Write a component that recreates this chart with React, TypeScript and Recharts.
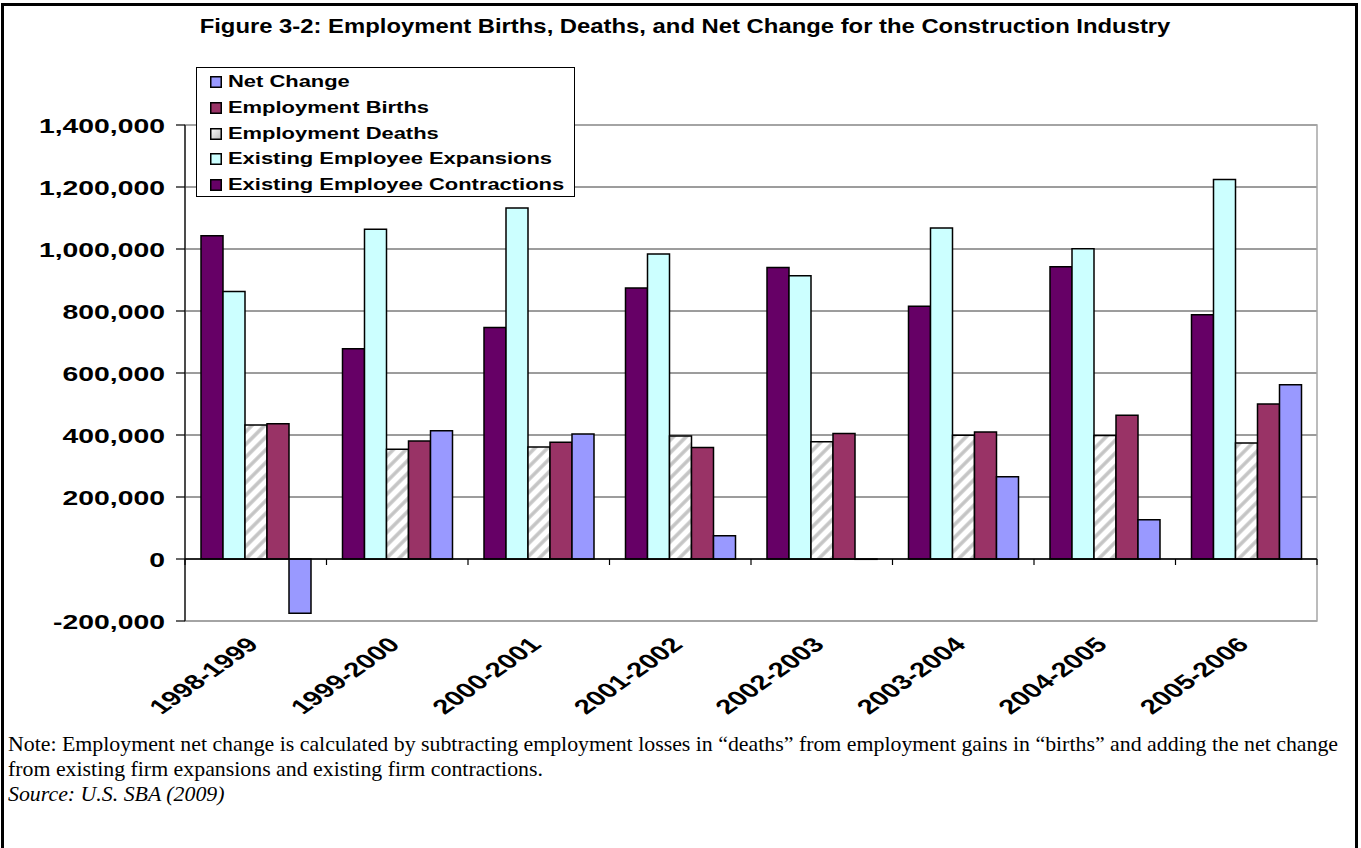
import React from 'react';
import { BarChart, Bar, XAxis, YAxis, CartesianGrid, ReferenceLine, ReferenceArea, Legend } from 'recharts';

const categories = ['1998-1999', '1999-2000', '2000-2001', '2001-2002', '2002-2003', '2003-2004', '2004-2005', '2005-2006'];
const contractions = [1043000, 678000, 747000, 874000, 940000, 815000, 943000, 788000];
const expansions = [863000, 1064000, 1132000, 984000, 914000, 1068000, 1001000, 1224000];
const deaths = [432000, 354000, 361000, 397000, 378000, 399000, 398000, 374000];
const births = [436000, 381000, 377000, 360000, 405000, 410000, 464000, 500000];
const netChange = [-175000, 414000, 403000, 75000, -1000, 265000, 127000, 562000];
const yTicks = [-200000, 0, 200000, 400000, 600000, 800000, 1000000, 1200000, 1400000];

const data = categories.map((period, i) => ({
  period,
  contractions: contractions[i],
  expansions: expansions[i],
  deaths: deaths[i],
  births: births[i],
  net: netChange[i],
}));

const series = [
  { key: 'contractions', name: 'Existing Employee Contractions', fill: '#660066' },
  { key: 'expansions', name: 'Existing Employee Expansions', fill: '#CCFFFF' },
  { key: 'deaths', name: 'Employment Deaths', fill: 'url(#hatch)' },
  { key: 'births', name: 'Employment Births', fill: '#993366' },
  { key: 'net', name: 'Net Change', fill: '#9999FF' },
];

const SANS = '"Liberation Sans", Arial, sans-serif';
const SERIF = '"Liberation Serif", "Times New Roman", serif';
const STRETCH = 1.35;

const fmt = (v: number) => v.toLocaleString('en-US');

const YTick = (props: any) => {
  const { x, y, payload } = props;
  return (
    <text
      transform={`translate(${x},${y}) scale(${STRETCH},1)`}
      textAnchor="end"
      dy="0.36em"
      fontFamily={SANS}
      fontWeight="bold"
      fontSize={21}
      fill="#000"
    >
      {fmt(payload.value)}
    </text>
  );
};

const XTick = (props: any) => {
  const { x, y, payload } = props;
  return (
    <text
      transform={`translate(${x + 4},${y + 25}) scale(1.42,1) rotate(-45)`}
      textAnchor="end"
      fontFamily={SANS}
      fontWeight="bold"
      fontSize={20.5}
      fill="#000"
    >
      {payload.value}
    </text>
  );
};

const ZeroAxis = (props: any) => {
  const { x1, y1, x2, y2 } = props;
  if (x1 == null) return <g />;
  const n = categories.length;
  const step = (x2 - x1) / n;
  return (
    <g>
      <line x1={x1} y1={y1} x2={x2} y2={y2} stroke="#000" strokeWidth={1.3} />
      {Array.from({ length: n + 1 }, (_, i) => (
        <line key={i} x1={x1 + i * step} x2={x1 + i * step} y1={y1} y2={y1 + 6} stroke="#000" strokeWidth={1.2} />
      ))}
    </g>
  );
};

const Swatch = ({ fill }: { fill: string }) => (
  <svg width={12} height={12} style={{ display: 'block' }}>
    <defs>
      <linearGradient id="swg" x1="0" y1="0" x2="1" y2="1">
        <stop offset="0" stopColor="#ffffff" />
        <stop offset="1" stopColor="#bdbdbd" />
      </linearGradient>
    </defs>
    <rect x={0.75} y={0.75} width={10.5} height={10.5} fill={fill.startsWith('url') ? 'url(#swg)' : fill} stroke="#000" strokeWidth={1.5} />
  </svg>
);

const LegendBox = () => (
  <div
    style={{
      width: 379,
      height: 130,
      border: '1px solid #000',
      background: '#fff',
      boxSizing: 'border-box',
      position: 'relative',
    }}
  >
    {[...series].reverse().map((s, i) => (
      <div
        key={s.key}
        style={{ position: 'absolute', left: 13, top: 6 + i * 25.8, height: 16, display: 'flex', alignItems: 'center' }}
      >
        <Swatch fill={s.fill} />
        <span
          style={{
            marginLeft: 6,
            fontFamily: SANS,
            fontWeight: 'bold',
            fontSize: 16,
            lineHeight: '16px',
            display: 'inline-block',
            transform: 'scaleX(1.37)',
            transformOrigin: 'left center',
            whiteSpace: 'nowrap',
            color: '#000',
          }}
        >
          {s.name}
        </span>
      </div>
    ))}
  </div>
);

export default function App() {
  return (
    <div style={{ position: 'absolute', left: 0, top: 0, width: 1361, height: 848, background: '#fff', overflow: 'hidden' }}>
      <div style={{ position: 'absolute', left: 1, top: 3, width: 1357, height: 860, borderTop: '3px solid #000', borderLeft: '3px solid #000', borderRight: '3px solid #000', boxSizing: 'border-box' }} />
      <div
        style={{
          position: 'absolute',
          left: 0,
          top: 13,
          width: 1370,
          textAlign: 'center',
          fontFamily: SANS,
          fontWeight: 'bold',
          fontSize: 21,
          lineHeight: '26px',
          color: '#000',
          transform: 'scaleX(1.135)',
          transformOrigin: '685px 50%',
        }}
      >
        Figure 3-2: Employment Births, Deaths, and Net Change for the Construction Industry
      </div>
      <div style={{ position: 'absolute', left: 0, top: 0 }}>
        <BarChart
          width={1361}
          height={730}
          data={data}
          margin={{ top: 125, right: 44, left: 0, bottom: 0 }}
          barGap={0}
          barSize={22}
        >
          <defs>
            <pattern id="hatch" patternUnits="userSpaceOnUse" width={9} height={9} patternTransform="rotate(45)">
              <rect width={9} height={9} fill="#ffffff" />
              <line x1={2} y1={0} x2={2} y2={9} stroke="#c4c4c4" strokeWidth={3.5} />
            </pattern>
          </defs>
          <CartesianGrid vertical={false} stroke="#3a3a3a" strokeWidth={1} />
          <ReferenceArea
            x1={categories[0]}
            x2={categories[categories.length - 1]}
            y1={-200000}
            y2={1400000}
            fill="none"
            fillOpacity={0}
            stroke="#a6a6a6"
            strokeWidth={1.5}
          />
          <XAxis
            dataKey="period"
            type="category"
            height={109}
            axisLine={false}
            tickLine={false}
            tickSize={0}
            tickMargin={0}
            interval={0}
            tick={<XTick />}
          />
          <YAxis
            type="number"
            domain={[-200000, 1400000]}
            ticks={yTicks}
            width={185}
            axisLine={{ stroke: '#000', strokeWidth: 1.2 }}
            tickLine={{ stroke: '#000', strokeWidth: 1.2 }}
            tickSize={9}
            tickMargin={11}
            tick={<YTick />}
            allowDataOverflow
          />
          {series.map((s) => (
            <Bar
              key={s.key}
              dataKey={s.key}
              name={s.name}
              fill={s.fill}
              stroke="#000"
              strokeWidth={1.5}
              isAnimationActive={false}
            />
          ))}
          <ReferenceLine y={0} shape={ZeroAxis} />
          <Legend
            layout="horizontal"
            verticalAlign="middle"
            align="center"
            content={() => <LegendBox />}
            wrapperStyle={{ position: 'absolute', left: 196, top: 67, width: 379, height: 130 }}
          />
        </BarChart>
      </div>
      <div
        style={{
          position: 'absolute',
          left: 8,
          top: 732,
          fontFamily: SERIF,
          fontSize: 21,
          lineHeight: '25px',
          color: '#000',
          transform: 'scaleX(1.04)',
          transformOrigin: 'left top',
        }}
      >
        <div style={{ whiteSpace: 'nowrap' }}>
          Note: Employment net change is calculated by subtracting employment losses in “deaths” from employment gains in “births” and adding the net change
        </div>
        <div style={{ whiteSpace: 'nowrap' }}>from existing firm expansions and existing firm contractions.</div>
        <div style={{ whiteSpace: 'nowrap', fontStyle: 'italic' }}>Source: U.S. SBA (2009)</div>
      </div>
    </div>
  );
}
